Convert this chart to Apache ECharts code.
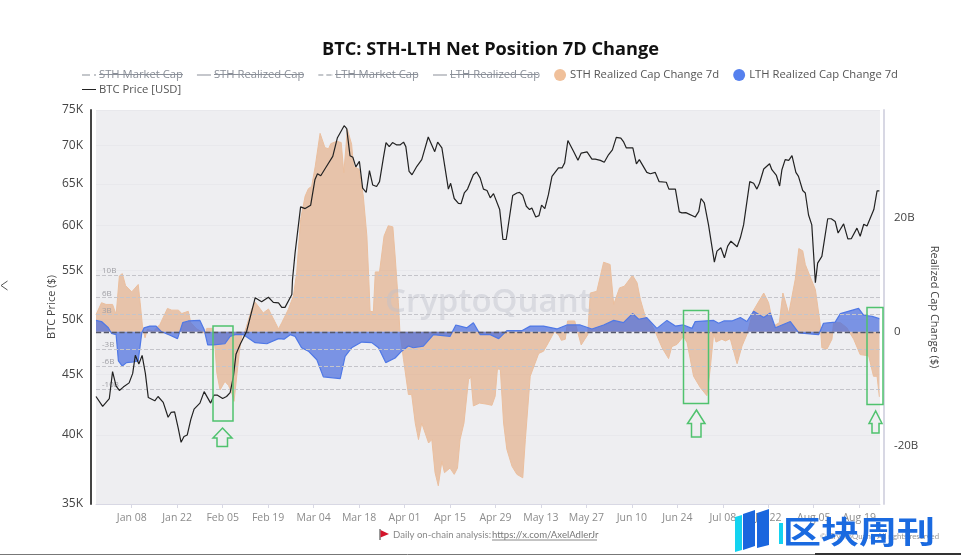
<!DOCTYPE html>
<html><head><meta charset="utf-8">
<script src="https://cdn.jsdelivr.net/npm/echarts@6/dist/echarts.min.js"></script>
<style>html,body{margin:0;background:#fff}#c{width:961px;height:555px}</style></head>
<body><div id="c"></div>
<script>
const startDate = Date.UTC(2023, 11, 28);
const endDay = 241.4;
const xTickDates = ['2024-01-08','2024-01-22','2024-02-05','2024-02-19','2024-03-04','2024-03-18','2024-04-01','2024-04-15','2024-04-29','2024-05-13','2024-05-27','2024-06-10','2024-06-24','2024-07-08','2024-07-22','2024-08-05','2024-08-19'];
const priceTicks = [35000,40000,45000,50000,55000,60000,65000,70000,75000];
const capTicks = [-20,0,20];
const refLevels = [10,6,3,-3,-6,-10];

const priceDays = [0,2.05,4.1,5.1,6.2,7.2,8.4,10.2,11.3,12.1,13.2,14.2,15.2,16.1,18.1,19.1,20.7,22.2,23.1,24.2,25.3,26.2,27.1,28.1,29.2,30.2,32,33.3,35.3,36.3,37.4,39,40.2,41.3,42.3,43.1,44.4,46.4,49,51,53.1,54.6,56.2,57.2,58.2,60.3,60.5,61.3,63,64.4,66.1,67.4,68.2,69.2,71,72.9,74.3,76.4,77.2,78.2,79.1,80,81.1,82.1,83.2,84.2,85.2,86.4,87.3,88.5,89.3,90.3,91.3,92.6,93.6,94.7,95.4,96.4,97.3,98.8,100.3,102.3,104.3,105.2,106.5,108.5,109.2,110.3,111.6,112.4,113.4,114.4,116.2,117.2,118.3,119.3,120.4,121.4,122.4,124.3,125.3,126.3,128.3,129.6,130.4,131.4,132.5,133.5,134.2,135.4,136.4,137.2,138.2,139.3,140.4,142.4,143.5,144.3,145.3,147.1,148.4,149.4,151.2,152.7,153.7,155.3,156.5,157.8,159,160.2,161.6,162.4,163.3,165.3,166.4,167.3,169.6,170.7,172.2,173.4,175.6,176.4,178.4,179.6,180.4,181.6,184.5,185.6,186.3,187.3,188.6,190.4,191.2,192.4,193.5,194.5,195.5,197.4,198.4,199.4,201.3,202.5,203.5,204.3,205.6,207.4,208.1,209.5,210.5,211.2,212.2,213.3,214.3,215.5,216.3,217.6,218.4,219.4,220.4,221.5,222.2,223.5,225.3,226.4,227.6,228.5,230.2,231.5,232.6,234.3,235.3,236.4,237.4,239.5,240.5,241.2];
const priceValues = [43090,42270,42920,45210,43960,43600,43880,44240,45060,46660,45890,46660,45060,43000,42730,43090,42600,41390,41780,41830,40550,39440,39880,40000,41230,42050,42540,43500,42540,43200,43200,42920,43090,43420,44780,46750,47670,48890,52150,51750,52210,51700,51640,51200,51200,52480,54000,56890,62190,61980,62390,65520,66300,66040,67260,68570,71040,72760,72340,68660,68440,67180,67910,64480,63950,66700,64880,64680,65290,68400,70420,69870,70420,70100,70100,70480,69870,66600,66170,67260,68130,71180,69190,70480,69700,64360,65090,63200,62600,62560,63880,64360,66170,66520,65740,64360,64190,63280,63800,61860,58380,58380,63560,63880,63950,63590,62260,61860,62060,60970,61140,62390,61980,63670,65960,67050,67050,67710,70700,69190,68040,69000,69160,68210,68210,68040,67780,68780,69430,71130,71040,70560,69700,69700,67580,68130,66470,66300,66470,65290,65220,64360,64360,61580,61460,61500,60970,61650,63200,62670,60050,55890,57080,57460,56350,57640,58190,57570,58570,60050,65290,65090,64360,65090,66910,67600,66820,66080,64750,66820,68130,68040,68660,66470,65960,64190,63880,61210,60050,53690,55780,56510,60770,60770,60450,59120,60170,58460,58490,59680,58750,60130,59930,61860,64150,64150];

const sthDays = [0,1.7,3.1,5.1,6.2,7.2,8.1,9.1,11,13,13.6,14.3,15.1,15.8,17.7,19.7,22,23.3,25.4,26.4,28.4,29.2,31,33.6,34.1,35.9,36.7,37.2,38.2,39.7,40.8,41.8,42.5,43.1,44.1,44.9,45.9,47.9,49,51.5,53.1,56.2,57.2,59.2,60.8,61.8,63,64.4,65.4,66.4,67.5,69,70.5,71.6,72.3,74.1,75.5,76.3,77.4,78.7,79.3,81,82.3,83.4,84,84.4,85.4,86,87.3,88.7,90,91.4,92.1,92.6,93.1,93.6,94.7,96.2,97.2,98.3,99.3,100.3,102.4,103.4,104.4,105.4,106.5,107.3,109,110.3,111.3,112.1,113.3,114.7,115.4,116.2,118.1,120.4,121.9,122.9,123.6,124.5,125.5,126.5,128.1,129.6,131.4,132.2,133.7,136.3,137.8,139.3,141.1,142.4,143.3,144.5,145.2,147.4,149.4,151.4,152.2,154.2,156.3,158.3,159.4,161.2,162.7,165.2,166.6,167.6,169.1,170.7,172.2,174.3,176.3,177.3,178.9,180.9,182,184,186.1,188.1,189.1,190.2,190.9,192.7,193.8,195.3,197.4,198.9,200.4,202.3,205.6,207.1,208.6,210.4,211.5,213.3,215.3,216.4,217.6,218.4,221.5,223,223.5,225.1,226.6,227.1,229.2,231.2,233.3,235.3,237.9,239.4,240.5,241.2];
const sthValues = [3,5.1,4.8,4.8,3,9.8,10.2,8.1,7,8.3,5.1,1,-1.05,0.4,0.1,1.3,4.1,3.8,3.8,3.2,3.6,1.6,0.5,-0.3,0.6,0.6,-3.1,-7.2,-10.2,-8.7,-9.4,-10.7,-12.2,-11.9,-3.7,-0.5,0.1,3.9,5.2,3.3,4,0.5,1.6,3.9,6.3,10.4,19.7,23.8,25.1,25.5,29,34.8,32.3,32.1,33,33.4,33.2,27.9,35.5,32.9,29,28.5,23.8,16.8,9.2,3.6,3.5,10.5,10.5,16.8,18.6,18.4,13.3,9.2,5.1,-0.2,-4.9,-11,-11,-16,-18.9,-16,-19.5,-18.9,-24.7,-27,-22.7,-24.7,-23.9,-25,-23.9,-18.9,-16,-8.4,-7.9,-13,-12.5,-12.7,-12.9,-11.3,-6.5,-6.6,-16,-20.6,-23.6,-25,-25.6,-18.9,-7.8,-3.8,-3.4,-1.9,0,-0.5,-1.5,-1.3,1.9,1.9,-2.3,-0.5,6.8,7.1,12.2,11.8,4.8,7.7,8,9.9,8.6,5.7,2.7,1.6,0,-2.8,-4.7,-2.6,-2.2,-0.8,-1.9,-7.8,-9.8,-11.2,-6.6,-0.2,-1.8,-1.3,-1.6,-1.2,-5.6,-2.5,-0.5,3.6,6.8,5.1,1,1.6,6.8,3.2,9.2,14.6,14.2,11.8,7.4,1.3,-2.8,-3,-1.3,1.6,1.6,0.7,-1.3,-4,-4.2,-7.8,-7.8,-11.4];

const lthDays = [0,1.7,3.8,4.8,6.2,6.9,8.1,9.4,11.5,13,14.1,14.8,16.6,18.5,20.2,22.8,25.1,26.7,28.4,32,33.3,34.4,36.1,39.7,41.3,42.8,45.4,49,52.6,56.2,57.9,59.8,61.3,63.3,65.4,68,70,75.2,76.7,78.7,81.8,84.9,87,89.2,92.1,94.1,96.2,97.7,100.8,103.9,109,110.8,114.2,116.2,118.3,121.4,124,126.5,131.1,133.7,137.8,141.9,145,149.1,152.7,156.3,159.4,162.4,165.2,167.1,169.6,172.7,175.8,178.4,180.9,183.5,184.5,190.2,191.7,193.3,195.8,198.4,200.4,202.5,205.6,207.6,209.2,213.8,216.4,222.5,224,227.6,229.2,234.8,236.4,239,241.2];
const lthValues = [2,1.8,0.7,-0.3,-0.5,-5.1,-6,-5.4,-5.3,-5.1,-0.2,0.7,1,1,0,-0.6,-1.2,1.6,1.9,2,0.4,-2.3,-2.3,-2.1,-0.8,-0.5,-0.5,-1.9,-2.1,-1.2,-1.3,-0.5,-0.8,-2.8,-3.4,-4.9,-7.9,-8.2,-4.3,-2.8,-1.8,-1.9,-2.8,-5.4,-4.6,-3.4,-2.5,-2.8,-2.5,-0.5,-0.8,1.2,0.7,1.6,-0.5,-0.5,-1.2,0.2,0.2,1,1,0.5,1.2,1.2,0.5,1.2,2,1.6,3.2,2.2,2.5,0.6,2,1,1.2,0.6,1.8,2,1.5,1.9,1.9,2.5,1.8,3.6,2.5,3.3,0.7,1.8,-0.2,-0.5,1.5,1.7,3.2,4.1,2.9,2.7,2.3];

const dayToTime = d => startDate + d * 864e5;
const pairs = (days, vals) => days.map((d, i) => [dayToTime(d), vals[i]]);
const FONT = '"Open Sans","Noto Sans",sans-serif';
const GREEN = '#4fc26e';
const hiddenNames = ['STH Market Cap','STH Realized Cap','LTH Market Cap','LTH Realized Cap'];
const iconSolid = 'path://M0,0H14V1H0Z';
const iconDash = 'path://M0,0H5V1H0Z M8,0H13V1H8Z M13.4,0H14V1H13.4Z';
const iconDashDot = 'path://M0,0H8V1H0Z M12,0H14V1H12Z';
const hiddenIcons = [iconDashDot, iconSolid, iconDash, iconSolid];
const xTickTimes = xTickDates.map(d => +new Date(d + 'T00:00:00Z'));

const box = (x,y,w,h) => ({type:'rect',shape:{x,y,width:w,height:h},style:{fill:'none',stroke:GREEN,lineWidth:1.5},z:50});
const arrow = (pts) => ({type:'polygon',shape:{points:pts},style:{fill:'none',stroke:GREEN,lineWidth:1.5},z:50});
const strike = (a,b) => ({type:'line',shape:{x1:a,y1:74.5,x2:b,y2:74.5},style:{stroke:'#8a8f98',lineWidth:1},z:60});
const txt = (x,y,text,fs,fill,extra) => ({type:'text',x,y,style:Object.assign({text,fontSize:fs,fill,fontFamily:FONT,textVerticalAlign:'middle'},extra||{}),z:5});
const LATO = {fontFamily:'Lato'};

const graphics = [
  txt(385,303,'CryptoQuant',33,'rgba(190,192,205,0.45)',{fontWeight:600}),
  box(213,326,20,95), box(683.5,310.5,25,93), box(867,307.5,16,97),
  arrow([[222.5,428],[232,438],[227.5,438],[227.5,446.5],[217,446.5],[217,438],[213,438]]),
  arrow([[696.5,410],[705,423.5],[701,423.5],[701,437],[691.5,437],[691.5,423.5],[687.5,423.5]]),
  arrow([[875.7,411],[882,423.5],[879,423.5],[879,433],[872,433],[872,423.5],[869,423.5]]),
  strike(99,183), strike(214,304), strike(335,418), strike(450,538),
  {type:'polyline',shape:{points:[[7.5,281],[1,285.5],[7.5,290]]},style:{fill:'none',stroke:'#555',lineWidth:1}},
  {type:'line',shape:{x1:0,y1:554.5,x2:815,y2:554.5},style:{stroke:'#777',lineWidth:1}},
  {type:'line',shape:{x1:815,y1:554,x2:961,y2:554},style:{stroke:'#333',lineWidth:2}},
  {type:'line',shape:{x1:380,y1:529,x2:380,y2:540},style:{stroke:'#333',lineWidth:1}},
  {type:'polygon',shape:{points:[[380.5,530],[389,534],[380.5,537.5]]},style:{fill:'#d4142a'}},
  txt(393,534.5,'Daily on-chain analysis: ',9.6,'#8a8a8a',LATO),
  txt(492,534.5,'https://x.com/AxelAdlerJr',9.6,'#777',LATO),
  {type:'line',shape:{x1:492,y1:540,x2:597,y2:540},style:{stroke:'#888',lineWidth:1}},
  txt(820,536,'© CryptoQuant. All rights reserved',7.8,'#999',LATO),
  {type:'polygon',shape:{points:[[735,517],[742,515],[742,550],[735,552]]},style:{fill:'#13d3f0'},z:70},
  {type:'polygon',shape:{points:[[743,514],[755,510],[755,546],[743,550]]},style:{fill:'#1a66de'},z:70},
  {type:'polygon',shape:{points:[[757,513],[769,509],[769,545],[757,548]]},style:{fill:'#1a66de'},z:70},
  {type:'rect',shape:{x:779,y:523,width:4,height:21},style:{fill:'#13d3f0'},z:70},
  {type:'text',x:783,y:531,scaleY:0.8,style:{text:'区块周刊',fontSize:38,fontWeight:700,fill:'#1a6ae0',fontFamily:'"Noto Sans CJK SC"',textVerticalAlign:'middle'},z:70}
];

const legendBase = {itemWidth:14,itemHeight:12,itemGap:14,padding:0,
  inactiveColor:'#8a8f98',inactiveBorderColor:'#8a8f98',
  textStyle:{fontSize:11.25,color:'#555',fontFamily:FONT,padding:[0,0,0,-2]}};

const option = {
  backgroundColor:'#fff',
  animation:false,
  textStyle:{fontFamily:FONT},
  title:{text:'BTC: STH-LTH Net Position 7D Change',left:317,top:36,
    textStyle:{fontSize:18.2,fontWeight:'bold',color:'#111',fontFamily:FONT}},
  legend:[
    Object.assign({},legendBase,{left:82,top:69,
      selected:Object.fromEntries(hiddenNames.map(n=>[n,false])),
      data:[...hiddenNames.map((n,i)=>({name:n,icon:hiddenIcons[i]})),
        {name:'STH Realized Cap Change 7d',icon:'circle'},
        {name:'LTH Realized Cap Change 7d',icon:'circle'}]}),
    Object.assign({},legendBase,{left:82,top:84,
      data:[{name:'BTC Price [USD]',icon:iconSolid}]})
  ],
  grid:{left:96,right:81,top:110,bottom:51,backgroundColor:'#eeeef1',show:true,borderWidth:0},
  xAxis:{type:'value',min:startDate,max:dayToTime(endDay),
    axisLine:{onZero:false,lineStyle:{color:'#d8d8e4',width:1}},
    axisTick:{show:true,length:4,lineStyle:{color:'#d8d8e4'},customValues:xTickTimes},
    axisLabel:{color:'#8c8c8c',fontSize:10.5,margin:9,hideOverlap:false,
      customValues:xTickTimes,
      formatter:v=>echarts.time.format(v,'{MMM} {dd}',true)},
    splitLine:{show:false}},
  yAxis:[
    {type:'log',min:35000,max:75000,position:'left',offset:5,
     name:'BTC Price ($)',nameLocation:'middle',nameGap:34,nameMoveOverlap:false,nameTextStyle:{fontSize:11,color:'#444'},
     axisLine:{show:true,onZero:false,lineStyle:{color:'#444',width:2}},
     axisTick:{show:false,customValues:priceTicks},
     axisLabel:{color:'#444',fontSize:12,margin:8,customValues:priceTicks,formatter:v=>Math.round(v/1000)+'K'},
     splitLine:{show:true,lineStyle:{color:'#e8e8ec',width:1}}},
    {type:'value',min:-30.2,max:38.9,position:'right',offset:4,
     name:'Realized Cap Change ($)',nameLocation:'middle',nameGap:45,nameMoveOverlap:false,nameRotate:-90,nameTextStyle:{fontSize:11,color:'#444'},
     axisLine:{show:true,onZero:false,lineStyle:{color:'#d8d8e4',width:2}},
     axisTick:{show:false},
     axisLabel:{color:'#444',fontSize:11.5,margin:10,customValues:capTicks,formatter:v=>v===0?'0':v+'B'},
     splitLine:{show:false}}
  ],
  series:[
    ...hiddenNames.map(n=>({name:n,type:'line',yAxisIndex:0,data:[],symbol:'none',lineStyle:{width:1,color:'#8a8f98'},itemStyle:{color:'#8a8f98'}})),
    {name:'STH Realized Cap Change 7d',type:'line',yAxisIndex:1,symbol:'none',z:2,
     data:pairs(sthDays,sthValues),
     lineStyle:{color:'#ebbf9e',width:1},itemStyle:{color:'#f0c09a'},
     areaStyle:{color:'rgba(226,168,126,0.62)',opacity:1,origin:0}},
    {name:'LTH Realized Cap Change 7d',type:'line',yAxisIndex:1,symbol:'none',z:3,
     data:pairs(lthDays,lthValues),
     lineStyle:{color:'#4f78e6',width:1.2},itemStyle:{color:'#5580ee'},
     areaStyle:{color:'rgba(72,108,222,0.7)',opacity:1,origin:0},
     markLine:{silent:true,symbol:'none',animation:false,precision:3,
       data:[
         ...refLevels.map(v=>({yAxis:v,name:v+'B',lineStyle:{color:'#c4c4ca',type:'dashed',width:1},
           label:{show:true,position:'insideStartTop',formatter:'{b}',fontSize:8,color:'#a0a0a6',distance:[6,0]}})),
         {yAxis:0,lineStyle:{color:'#55586a',type:'dashed',width:1.3},label:{show:false}}
       ]}},
    {name:'BTC Price [USD]',type:'line',yAxisIndex:0,symbol:'none',z:5,
     data:pairs(priceDays,priceValues),
     lineStyle:{color:'#222',width:1.2},itemStyle:{color:'#222'}}
  ],
  graphic:graphics
};
const chart = echarts.init(document.getElementById('c'));
chart.setOption(option);
</script></body></html>
